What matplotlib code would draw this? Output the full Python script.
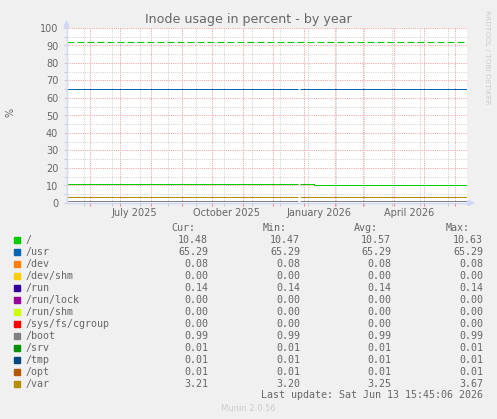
import numpy as np
import pandas as pd
import matplotlib
matplotlib.use('Agg')
import matplotlib.pyplot as plt
import matplotlib.dates as mdates
import matplotlib.transforms as mtransforms
from matplotlib.patches import Rectangle, Polygon

W, H = 497, 419

# breakpoints of the yearly view: short data gap end of december, "/" steps down mid january
dates = pd.to_datetime(['2025-05-09', '2025-12-26', '2025-12-28', '2026-01-11', '2026-06-13'])
gap = np.nan

names = ['/', '/usr', '/dev', '/dev/shm', '/run', '/run/lock', '/run/shm',
         '/sys/fs/cgroup', '/boot', '/srv', '/tmp', '/opt', '/var']
colors = ['#00CC00', '#0066B3', '#FF8000', '#FFCC00', '#330099', '#990099', '#CCFF00',
          '#FF0000', '#808080', '#008F00', '#00487D', '#B35A00', '#B38F00']
values = [
    [10.62, gap, 10.62, 10.48, 10.48],
    [65.29, gap, 65.29, 65.29, 65.29],
    [0.08, gap, 0.08, 0.08, 0.08],
    [0.00, gap, 0.00, 0.00, 0.00],
    [0.14, gap, 0.14, 0.14, 0.14],
    [0.00, gap, 0.00, 0.00, 0.00],
    [0.00, gap, 0.00, 0.00, 0.00],
    [0.00, gap, 0.00, 0.00, 0.00],
    [0.99, gap, 0.99, 0.99, 0.99],
    [0.01, gap, 0.01, 0.01, 0.01],
    [0.01, gap, 0.01, 0.01, 0.01],
    [0.01, gap, 0.01, 0.01, 0.01],
    [3.21, gap, 3.21, 3.21, 3.21],
]
cur = [10.48, 65.29, 0.08, 0.00, 0.14, 0.00, 0.00, 0.00, 0.99, 0.01, 0.01, 0.01, 3.21]
mins = [10.47, 65.29, 0.08, 0.00, 0.14, 0.00, 0.00, 0.00, 0.99, 0.01, 0.01, 0.01, 3.20]
avgs = [10.57, 65.29, 0.08, 0.00, 0.14, 0.00, 0.00, 0.00, 0.99, 0.01, 0.01, 0.01, 3.25]
maxs = [10.63, 65.29, 0.08, 0.00, 0.14, 0.00, 0.00, 0.00, 0.99, 0.01, 0.01, 0.01, 3.67]
warning = 92
month_labels = ['July 2025', 'October 2025', 'January 2026', 'April 2026']
label_months = pd.to_datetime(['2025-07-01', '2025-10-01', '2026-01-01', '2026-04-01'])
last_update = 'Last update: Sat Jun 13 15:45:06 2026'

FONT = '#666666'
MONO = 'DejaVu Sans Mono'
plt.rcParams['font.family'] = 'DejaVu Sans'
plt.rcParams['lines.scale_dashes'] = False
PT = 0.72  # one pixel in points at 100 dpi


def fx(x):
    return x / W


def fy(y):
    return 1 - y / H


fig = plt.figure(figsize=(W / 100, H / 100), dpi=100, facecolor='#F0F0F0')
ax = fig.add_axes([fx(66.5), fy(203), (467 - 66.5) / W, 175 / H])
ax.set_facecolor('white')

# grid: red monthly, grey every four weeks; red every 10 %, grey every 5 %
ax.set_xlim(dates[0], dates[-1])
ax.set_ylim(0, 100)
ax.xaxis.set_major_locator(mdates.MonthLocator())
ax.xaxis.set_minor_locator(mdates.WeekdayLocator(byweekday=mdates.MO, interval=4))
ax.xaxis.set_major_formatter(plt.NullFormatter())
ax.yaxis.set_major_locator(plt.MultipleLocator(10))
ax.yaxis.set_minor_locator(plt.MultipleLocator(5))
dots = (0, (PT, 1.2 * PT))
ax.grid(which='major', color='#F0A0A0', linestyle=dots, linewidth=PT)
ax.grid(which='minor', color='#D2D2D2', linestyle=dots, linewidth=PT)
ax.set_axisbelow(True)
ax.tick_params(axis='x', which='major', length=2, width=PT, color='#F08080', pad=6)
ax.tick_params(axis='x', which='minor', length=2, width=PT, color='#C8C8C8')
ax.tick_params(axis='y', which='both', length=2, width=PT, color='#C8C8C8',
               labelsize=7, labelcolor=FONT, pad=4)
for s in ['top', 'right']:
    ax.spines[s].set_visible(False)
for s in ['left', 'bottom']:
    ax.spines[s].set_color('#CFD6F8')
    ax.spines[s].set_linewidth(1)

trans = mtransforms.blended_transform_factory(ax.transData, fig.transFigure)
for d, lab in zip(label_months, month_labels):
    ax.text(d + pd.Timedelta(days=15), fy(213), lab, transform=trans, ha='center',
            va='center', fontsize=7, color=FONT)

for vals, c in zip(values, colors):
    ax.plot(dates, vals, drawstyle='steps-post', color=c, linewidth=PT, solid_capstyle='butt')
ax.axhline(warning, color='#00CC00', linewidth=1.1 * PT, linestyle=(0, (5, 2.2)))

# arrows at the ends of the axes
fig.patches.append(Polygon([(fx(64), fy(27)), (fx(69), fy(27)), (fx(66.5), fy(21))],
                           closed=True, transform=fig.transFigure, color='#CFD6F8'))
fig.patches.append(Polygon([(fx(468), fy(200.5)), (fx(468), fy(205.5)), (fx(474), fy(203))],
                           closed=True, transform=fig.transFigure, color='#CFD6F8'))

fig.text(fx(248.5), fy(20), 'Inode usage in percent - by year', ha='center', va='center',
         fontsize=9.1, color=FONT)
fig.text(fx(10), fy(112), '%', rotation=90, ha='center', va='center', fontsize=7, color=FONT)
fig.text(fx(487), fy(57), 'RRDTOOL / TOBI OETIKER', rotation=270, ha='center', va='center',
         fontsize=5.3, color='#CCCCCC')
fig.text(fx(248), fy(408), 'Munin 2.0.56', ha='center', va='center', fontsize=6,
         color='#CCCCCC')

# legend table
head_y = 228
for right, lab in zip([195, 287, 378, 470], ['Cur:', 'Min:', 'Avg:', 'Max:']):
    fig.text(fx(right), fy(head_y), lab, ha='right', va='center', family=MONO,
             fontsize=7.2, color=FONT)
for i, name in enumerate(names):
    y = 240 + 12 * i
    fig.patches.append(Rectangle((fx(14), fy(y + 3)), 6 / W, 6 / H,
                                 transform=fig.transFigure, color=colors[i]))
    fig.text(fx(26), fy(y), name, ha='left', va='center', family=MONO, fontsize=7.2, color=FONT)
    for right, col in zip([208, 300, 391, 483], [cur, mins, avgs, maxs]):
        fig.text(fx(right), fy(y), '%.2f' % col[i], ha='right', va='center', family=MONO,
                 fontsize=7.2, color=FONT)
fig.text(fx(483), fy(395), last_update, ha='right', va='center', family=MONO,
         fontsize=7.2, color=FONT)

fig.savefig('out.png', dpi=100, facecolor=fig.get_facecolor())
